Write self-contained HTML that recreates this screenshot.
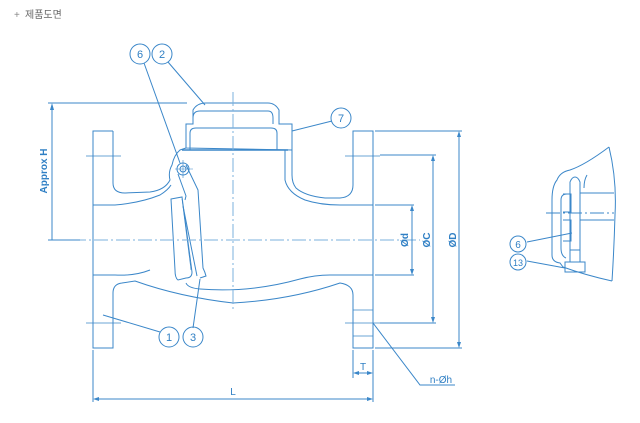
<!DOCTYPE html>
<html><head><meta charset="utf-8"><style>
html,body{margin:0;padding:0;background:#fff;width:640px;height:423px;overflow:hidden}
svg{display:block}
</style></head><body>
<svg width="640" height="423" viewBox="0 0 640 423" xmlns="http://www.w3.org/2000/svg" font-family="Liberation Sans, sans-serif">
<text x="14" y="18" font-size="10" fill="#888">+</text>
<text x="25" y="18" font-size="10" fill="#666" font-family="Liberation Sans, Noto Sans CJK KR, sans-serif">제품도면</text>
<g fill="none" stroke="#3b87c9" stroke-width="1">
<path d="M113 131 H93 V348 H113 V293 Q113 284 122 283 L135 281 Q180 297 233 303 Q290 300 340 283 Q353 285 353 295 V348 H373 V131 H353 V185 Q353 197 340 198 L325 198 Q305 196 296 188 Q292 183 292 175 V145"/>
<path d="M113 131 V183 Q113 193 125 193 L150 192 Q165 190 170 180 Q168 172 172 165 Q174 155 180 150 L186 148"/>
<path d="M93 205 H115 Q140 203 160 195 Q168 190 171 185"/>
<path d="M93 275 H115 Q135 276 150 270"/>
<path d="M285 150 V180 Q288 193 305 200 Q320 205 340 205 H373"/>
<path d="M373 275 H330 Q315 275 300 279 Q250 293 200 289 Q188 288 186 283"/>
<path d="M186 148 V124 H193 V110 Q197 103 206 103 H268 Q275 103 279 110 V124 H292 V150 Z"/>
<path d="M193 124 V118 Q193 111 200 111 H268 Q273 111 273 118 V124"/>
<path d="M190 150 V133 Q190 128 196 128 H271 Q277 128 277 133 V150"/>
<path d="M182 150 H288" stroke-width="1.6"/>
<circle cx="183" cy="169" r="6"/><circle cx="183" cy="169" r="3"/>
<path d="M175 169 H193 M183 160 V178" stroke-width="0.6"/>
<path d="M178 174 L186 196 L185 200 M186 165 L198 190 L203 268 Q205 272 206 276 L200 278"/>
<path d="M171 199 L182 197 L192 272 Q192 278 186 278 L178 280 Q175 278 175 270 Z"/>
<path d="M182 199 L191 270" stroke-width="0.6"/>
<path d="M183 206 L197 276"/>
<path d="M353 310 H373 M353 336 H373" stroke-width="0.8"/>
<path d="M50 240 H420" stroke="#7bb0dd" stroke-dasharray="14 3 2 3"/>
<path d="M233 92 V312" stroke="#7bb0dd" stroke-dasharray="14 3 2 3"/>
<path d="M86 156 H121 M86 323 H121 M345 156 H380 M345 323 H380" stroke-width="0.8"/>
<path d="M48 103 H187 M48 240 H80 M52 106 V240"/>
<path d="M375 205 H414 M375 275 H414 M412 207 V273"/>
<path d="M380 155 H436 M380 323 H436 M433 157 V321"/>
<path d="M375 131 H462 M375 348 H462 M459 133 V346"/>
<path d="M93 350 V402 M373 350 V402 M95 399 H371"/>
<path d="M353 350 V378 M355 373 H371"/>
<path d="M373 323 L420 385 H455"/>
<path d="M144 63 L180 163 M168 62 L205 105 M332 121 L292 131 M160 332 L103 315 M193 328 L200 279"/>
<circle cx="140" cy="54" r="10"/><circle cx="162" cy="54" r="10"/>
<circle cx="341" cy="118" r="10"/>
<circle cx="169" cy="337" r="10"/><circle cx="193" cy="337" r="10"/>
<!-- right detail -->
<path d="M609 147 Q585 165 570 170 Q560 172 557 180 Q552 186 552 200 V255 Q552 262 560 263 L563 267 Q585 275 612 281"/>
<path d="M609 147 Q617 180 615 215 Q614 250 612 281"/>
<path d="M567 194 Q561 194 561 200 V248 Q561 256 566 258 M587 175 Q584 180 584 188"/>
<path d="M563 194 H571 V212 H563 M563 220 H571 V241 H563"/>
<path d="M580 193 H614 M580 220 H614"/>
<path d="M570 182 Q572 177 575 177 Q578 177 580 182 V250 H570 Z"/>
<path d="M570 250 H580 V262 H570 Z M565 262 H585 V272 H565 Z"/>
<path d="M546 213 H614" stroke-dasharray="14 3 2 3"/>
<path d="M527 242 L572 233 M527 261 L565 268"/>
<circle cx="518" cy="244" r="8"/><circle cx="518" cy="262" r="8"/>
</g>
<g fill="#3b87c9">
<path d="M52 103 L50 110 L54 110 Z M412 205 L410 211 L414 211 Z M412 275 L410 269 L414 269 Z M433 155 L431 161 L435 161 Z M433 323 L431 317 L435 317 Z M459 131 L457 137 L461 137 Z M459 348 L457 342 L461 342 Z M93 399 L99 397 L99 401 Z M373 399 L367 397 L367 401 Z M353 373 L359 371 L359 375 Z M373 373 L367 371 L367 375 Z"/>
</g>
<g fill="#2f7fc4" font-size="11" text-anchor="middle">
<text x="140" y="58">6</text><text x="162" y="58">2</text><text x="341" y="122">7</text>
<text x="169" y="341">1</text><text x="193" y="341">3</text>
<text x="518" y="248" font-size="10">6</text><text x="518" y="266" font-size="9">13</text>
<text x="233" y="395" font-size="10">L</text>
<text x="363" y="370" font-size="10">T</text>
<text x="441" y="383" font-size="10">n-Øh</text>
<text transform="translate(47 171) rotate(-90)" font-size="10" font-weight="bold">Approx H</text>
<text transform="translate(408 240) rotate(-90)" font-size="10" font-weight="bold">Ød</text>
<text transform="translate(430 240) rotate(-90)" font-size="10" font-weight="bold">ØC</text>
<text transform="translate(456 240) rotate(-90)" font-size="10" font-weight="bold">ØD</text>
</g>
</svg>
</body></html>
